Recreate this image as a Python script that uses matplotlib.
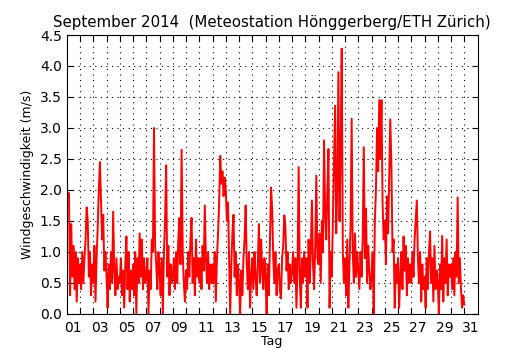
import numpy as np
import matplotlib
matplotlib.use("Agg")
import matplotlib.pyplot as plt
from matplotlib.ticker import FixedLocator, FixedFormatter

# wind speed (m/s), 2-hourly readings per day, 1-30 Sep 2014
sep01 = [2.0, 1.9, 1.95, 0.3, 1.45, 0.6, 1.1, 0.4, 1.0, 0.2, 0.9, 0.5]
sep02 = [0.8, 0.4, 1.0, 0.5, 0.9, 1.2, 1.72, 1.5, 0.6, 1.0, 0.3, 0.8]
sep03 = [0.5, 1.1, 0.2, 0.9, 1.4, 2.0, 2.45, 1.8, 1.2, 1.6, 0.7, 1.0]
sep04 = [0.6, 0.1, 0.8, 0.4, 1.0, 0.5, 1.65, 0.7, 0.3, 0.9, 0.4, 0.6]
sep05 = [0.5, 0.9, 0.3, 0.7, 0.1, 0.8, 1.25, 0.4, 1.0, 0.2, 0.7, 0.4]
sep06 = [0.8, 0.3, 1.0, 0.0, 0.9, 0.5, 1.3, 0.6, 1.2, 0.4, 0.9, 0.5]
sep07 = [0.6, 0.9, 0.0, 0.7, 0.4, 1.2, 1.0, 3.0, 1.1, 0.8, 0.4, 1.0]
sep08 = [0.7, 0.3, 0.9, 0.0, 1.0, 1.5, 2.4, 0.6, 1.1, 0.3, 0.8, 0.5]
sep09 = [0.6, 0.9, 0.4, 1.0, 0.5, 1.2, 1.55, 0.8, 2.65, 1.0, 0.5, 0.2]
sep10 = [0.7, 0.4, 1.0, 0.6, 1.2, 1.55, 0.5, 0.9, 0.3, 1.2, 0.6, 0.9]
sep11 = [0.5, 0.9, 0.4, 1.1, 0.7, 1.75, 0.9, 0.5, 1.0, 0.4, 0.8, 0.5]
sep12 = [0.8, 0.5, 1.0, 0.2, 0.9, 1.3, 1.8, 2.55, 2.1, 2.3, 1.9, 2.2]
sep13 = [2.0, 1.5, 1.8, 0.9, 0.0, 0.8, 1.3, 1.6, 0.6, 1.0, 0.3, 0.8]
sep14 = [0.5, 0.0, 0.7, 0.3, 0.9, 1.2, 1.75, 0.8, 0.4, 1.0, 0.1, 0.6]
sep15 = [0.9, 0.4, 1.0, 0.6, 0.3, 0.8, 1.45, 0.5, 1.2, 0.7, 0.4, 0.9]
sep16 = [0.6, 0.0, 0.8, 0.3, 1.2, 2.04, 1.7, 0.9, 0.5, 1.0, 0.3, 0.7]
sep17 = [0.8, 0.4, 0.25, 0.9, 1.1, 1.59, 1.4, 0.7, 1.0, 0.4, 0.8, 0.5]
sep18 = [0.7, 1.0, 0.5, 0.9, 0.1, 0.8, 2.37, 0.6, 0.1, 0.9, 0.5, 1.0]
sep19 = [0.6, 0.9, 0.1, 1.2, 0.5, 1.0, 1.83, 0.8, 0.4, 1.1, 2.23, 0.9]
sep20 = [0.8, 1.3, 0.5, 1.5, 1.0, 2.8, 1.6, 1.2, 2.0, 2.66, 0.1, 1.0]
sep21 = [0.6, 1.5, 2.4, 3.36, 1.3, 2.0, 3.9, 1.5, 2.6, 4.28, 1.0, 0.5]
sep22 = [0.9, 0.3, 1.2, 0.1, 0.8, 1.4, 3.15, 1.0, 0.5, 1.3, 0.6, 1.0]
sep23 = [0.7, 0.4, 1.0, 0.6, 1.2, 2.69, 0.9, 1.7, 0.5, 1.1, 0.7, 0.4]
sep24 = [0.6, 1.0, 0.0, 1.5, 2.0, 3.0, 2.3, 3.45, 2.5, 3.45, 1.8, 1.2]
sep25 = [1.5, 0.8, 1.9, 1.3, 2.2, 3.14, 2.4, 1.0, 1.2, 0.1, 0.8, 0.5]
sep26 = [0.9, 0.1, 0.6, 1.0, 0.4, 1.25, 0.7, 1.1, 0.3, 0.9, 0.5, 0.8]
sep27 = [0.5, 1.0, 0.6, 1.2, 1.5, 1.83, 0.9, 0.5, 1.0, 0.2, 0.8, 0.4]
sep28 = [0.6, 0.1, 0.9, 0.4, 1.0, 1.33, 0.5, 0.9, 0.2, 1.1, 0.4, 0.7]
sep29 = [0.5, 0.0, 0.8, 0.4, 1.26, 0.2, 0.9, 0.5, 1.2, 0.3, 0.8, 0.6]
sep30 = [0.8, 0.4, 0.9, 0.3, 1.0, 0.6, 1.88, 0.5, 0.9, 0.4, 0.1, 0.3]
last_value = 0.15  # 1 Oct 00:00

days = [sep01, sep02, sep03, sep04, sep05, sep06, sep07, sep08, sep09, sep10,
        sep11, sep12, sep13, sep14, sep15, sep16, sep17, sep18, sep19, sep20,
        sep21, sep22, sep23, sep24, sep25, sep26, sep27, sep28, sep29, sep30]

day_labels = ["%02d" % d for d in range(1, 32, 2)]

# build time axis: day number (1.0 = 1 Sep 00:00)
speed = []
t = []
for i, vals in enumerate(days):
    n = len(vals)
    for j, v in enumerate(vals):
        t.append(1 + i + j / n)
        speed.append(v)
t.append(1 + len(days))
speed.append(last_value)

fig = plt.figure(figsize=(5.3, 3.5), dpi=100)
ax = fig.add_axes([0.126, 0.103, 0.775, 0.797])
ax.plot(t, speed, color="red", linewidth=1.4)

ax.set_xlim(1, 32)
ax.set_ylim(0, 4.5)
ax.set_yticks(np.arange(0, 4.51, 0.5))
ax.set_yticklabels(["%.1f" % v for v in np.arange(0, 4.51, 0.5)])

ax.xaxis.set_major_locator(FixedLocator(range(2, 32)))
ax.xaxis.set_major_formatter(FixedFormatter([""] * 30))
ax.xaxis.set_minor_locator(FixedLocator([d + 0.5 for d in range(1, 32, 2)]))
ax.xaxis.set_minor_formatter(FixedFormatter(day_labels))
ax.tick_params(axis="x", which="minor", length=0, labelsize=10, pad=5)
ax.tick_params(axis="both", which="major", direction="in", length=4,
               top=True, right=True, labelsize=10)

ax.grid(True, which="major", color="black", linestyle=(0, (1, 4)), linewidth=0.8)

ax.set_xlabel("Tag", fontsize=9, labelpad=0)
ax.set_ylabel("Windgeschwindigkeit (m/s)", fontsize=9)
ax.set_title("September 2014  (Meteostation Hönggerberg/ETH Zürich)", fontsize=10.8)

fig.savefig("out.png", dpi=100, facecolor="white")
